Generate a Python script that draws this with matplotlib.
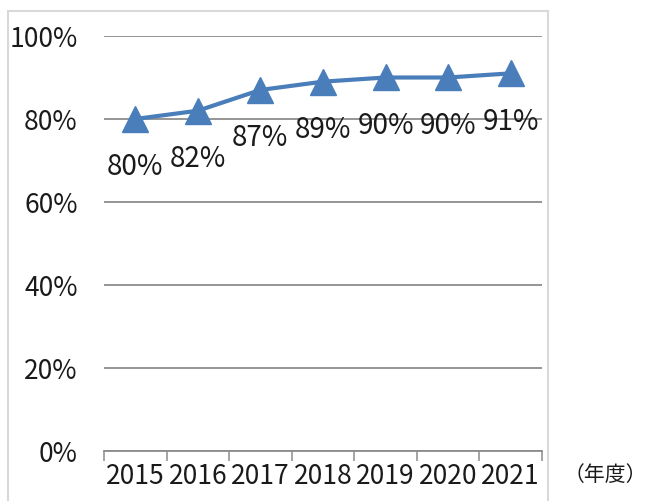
import matplotlib.pyplot as plt
from matplotlib.patches import Rectangle

# Data
years = ['2015', '2016', '2017', '2018', '2019', '2020', '2021']
rates = [80, 82, 87, 89, 90, 90, 91]
y_ticks = [0, 20, 40, 60, 80, 100]

plt.rcParams['font.family'] = ['Noto Sans CJK JP', 'DejaVu Sans']

fig = plt.figure(figsize=(6.46, 5.02), dpi=100)
ax = fig.add_axes([104 / 646, 1 - 452 / 502, 438 / 646, 415 / 502])

blue = '#4A7EBB'
txt = '#1a1a1a'
x = list(range(len(years)))
ax.plot(x, rates, color=blue, lw=3, marker='^', ms=19, mfc=blue, mec=blue, zorder=3)

# Data labels below the points
for xi, v in zip(x, rates):
    ax.annotate(f'{v}%', (xi, v), xytext=(0, -34), textcoords='offset points',
                ha='center', va='center', fontsize=20, color=txt, zorder=4)

ax.set_xlim(-0.5, len(years) - 0.5)
ax.set_ylim(0, 100)

# y axis: gridlines, no spine
ax.set_yticks(y_ticks)
ax.set_yticklabels([f'{t}%' for t in y_ticks], fontsize=19, color=txt)
ax.tick_params(axis='y', length=0, pad=19)
ax.grid(axis='y', color='#8c8c8c', lw=1.3)
ax.set_axisbelow(True)

# x axis: ticks between categories
ax.set_xticks(x)
ax.set_xticklabels(years, fontsize=19, color=txt)
ax.set_xticks([i - 0.5 for i in range(len(years) + 1)], minor=True)
ax.tick_params(axis='x', which='major', length=0, pad=8)
ax.tick_params(axis='x', which='minor', length=7, width=1.1, color='#8c8c8c', direction='out')

for s in ['left', 'right', 'top']:
    ax.spines[s].set_visible(False)
ax.spines['bottom'].set_color('#8c8c8c')
ax.spines['bottom'].set_linewidth(1.3)

# Chart area border
fig.patches.append(Rectangle((8 / 646, -0.05), 540 / 646, 1.05 - 12 / 502,
                             transform=fig.transFigure, fill=False,
                             ec='#d9d9d9', lw=1.5))

fig.text(605 / 646, 1 - 475 / 502, '（年度）', ha='center', va='center', fontsize=15,
         color=txt)

fig.savefig('out.png', dpi=100)
